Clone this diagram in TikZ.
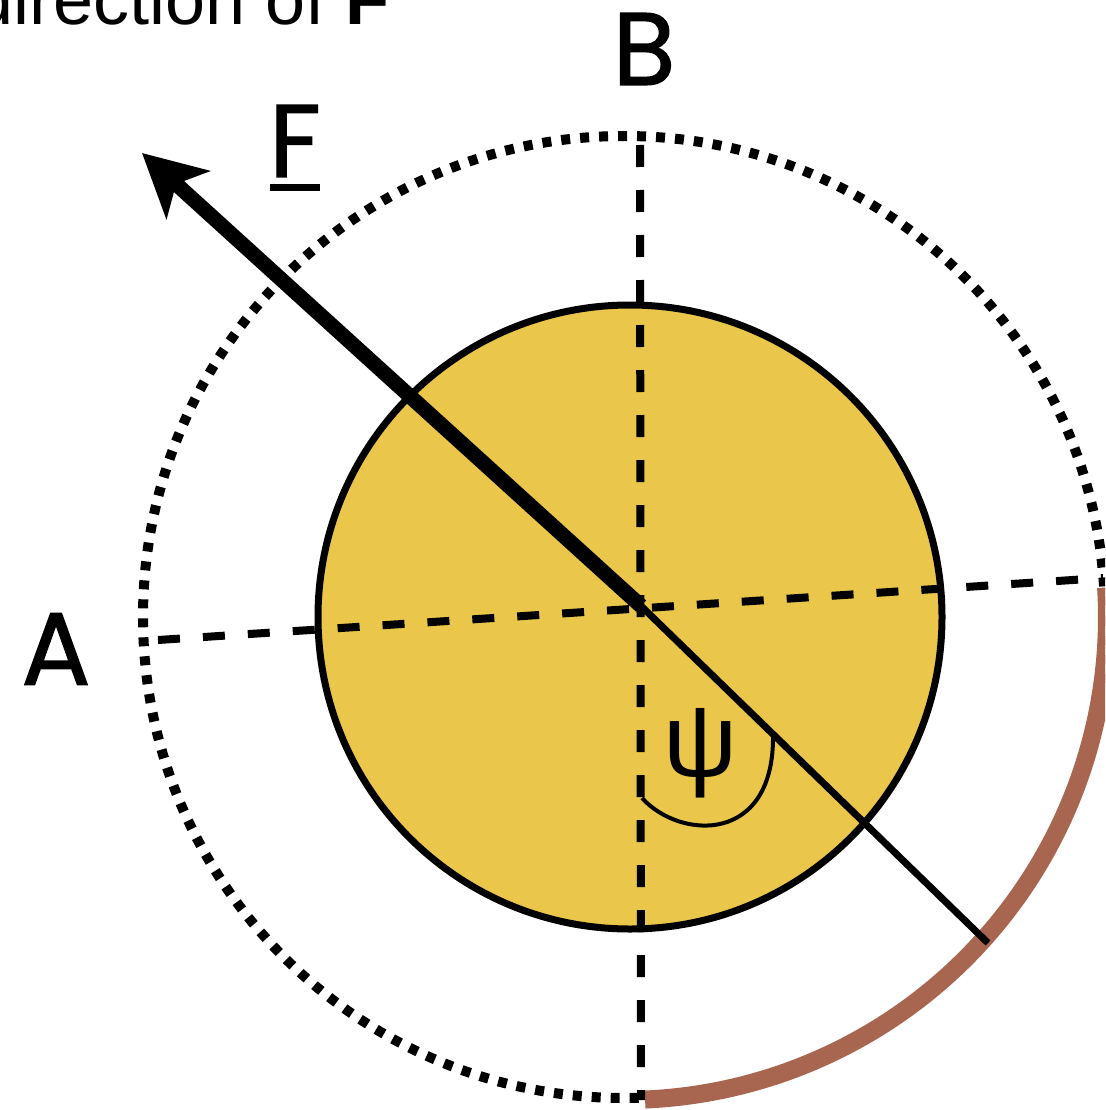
\documentclass[tikz,border=0pt]{standalone}
\usepackage{fontspec}
\setmainfont{Liberation Sans}
\newfontfamily\popfont[FakeBold=1.2]{Poppins}
\usetikzlibrary{arrows.meta}
\definecolor{coreyellow}{RGB}{234,198,74}
\definecolor{arcbrown}{RGB}{168,102,80}
\tikzset{
  dashaxis/.style={line width=8pt, dash pattern=on 22pt off 23pt},
  dotring/.style={line width=10pt, dash pattern=on 9pt off 10pt},
  biglabel/.style={font=\popfont\fontsize{103}{103}\selectfont, inner sep=0pt},
}
\begin{document}
\begin{tikzpicture}[x=1pt,y=-1pt]
\useasboundingbox (0,0) rectangle (1105,1110);
\clip (0,0) rectangle (1105,1110);
\fill[white] (0,0) rectangle (1105,1110);

\coordinate (Oout) at (624,617);
\coordinate (Ocore) at (630,617);
\coordinate (O) at (641,606);
\coordinate (tip) at (142,153);
\coordinate (tend) at (988,943);
\coordinate (vtop) at (640,145);
\coordinate (vbot) at (641,1100);
\coordinate (hleft) at (158,640);
\coordinate (hright) at (1103,578);

% outer dotted ring
\draw[dotring] (Oout) circle[radius=481];
% brown arc
\draw[arcbrown, line width=18pt] (Oout) ++(-3.5:483) arc[start angle=-3.5, end angle=87.5, radius=483];
% yellow core
\draw[fill=coreyellow, line width=7pt] (Ocore) circle[radius=312];
% dashed axes
\draw[dashaxis] (vtop) -- (vbot);
\draw[dashaxis] (hleft) -- (hright);
% thin line
\draw[line width=7pt] (O) -- (tend);
% force arrow
\draw[line width=15pt, -{Stealth[length=62pt,width=64pt,inset=16pt]}] (O) -- (tip);
% psi angle arc
\draw[line width=4pt] (642,798) .. controls (680,840) and (775,845) .. (773,734);

% labels
\node[biglabel] (lA) at (56,649) {A};
\node[biglabel] (lB) at (644,49) {B};
\node[biglabel] (lF) at (295,141) {F};
\draw[line width=7pt] (270,188) -- (320,188);
\node[inner sep=0pt, font=\fontsize{104}{104}\selectfont] (lpsi) at (701,753) {ψ};
\node[anchor=base west, inner sep=0pt, font=\fontsize{72}{72}\selectfont] (title) at (-27,25) {direction of \textbf{F}};
\end{tikzpicture}
\end{document}
